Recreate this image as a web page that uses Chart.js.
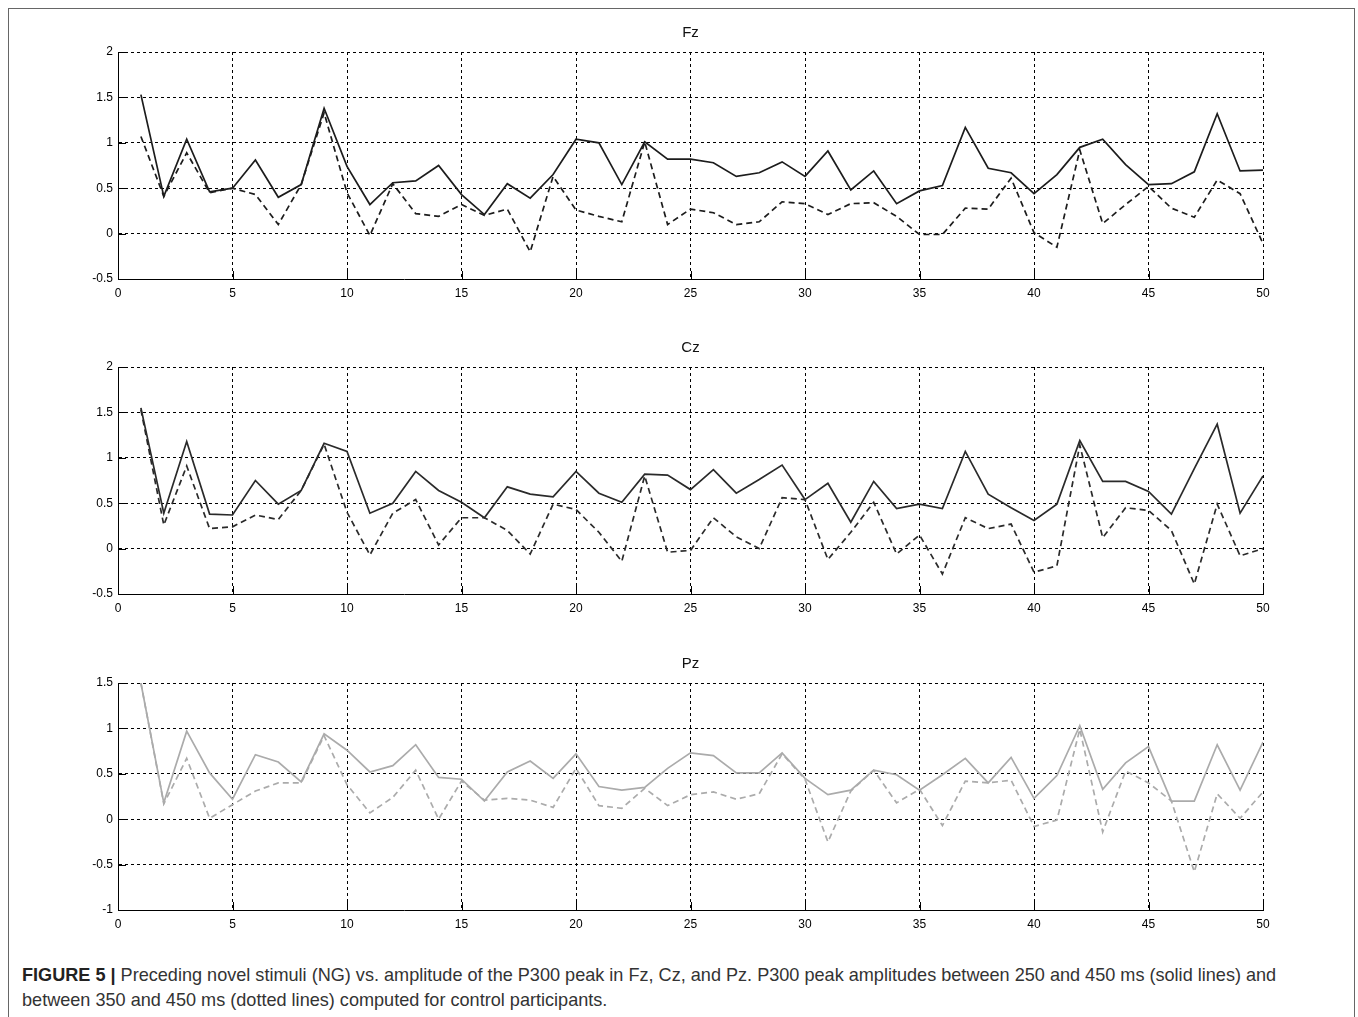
<!DOCTYPE html>
<html>
<head>
<meta charset="utf-8">
<script src="https://cdn.jsdelivr.net/npm/chart.js@4.4.1/dist/chart.umd.min.js"></script>
<style>
  html, body { margin: 0; padding: 0; background: #fff; overflow: hidden; }
  body { width: 1358px; height: 1017px; position: relative; font-family: "Liberation Sans", Arial, sans-serif; }
  #frame { position: absolute; left: 8px; top: 8px; width: 1345px; height: 1020px; border: 1px solid #666; }
  .box { position: absolute; left: 10px; width: 1361px; height: 287px; }
  #caption { position: absolute; left: 22px; top: 963px; font-size: 18.1px; line-height: 25px; color: #333; white-space: nowrap; }
  #caption b { color: #222; }
</style>
</head>
<body>
<div id="frame"></div>
<div class="box" style="top:22px"><canvas id="fz"></canvas></div>
<div class="box" style="top:337px"><canvas id="cz"></canvas></div>
<div class="box" style="top:653px"><canvas id="pz"></canvas></div>
<div id="caption"><b>FIGURE 5 |</b> Preceding novel stimuli (NG) vs. amplitude of the P300 peak in Fz, Cz, and Pz. P300 peak amplitudes between 250 and 450 ms (solid lines) and<br>between 350 and 450 ms (dotted lines) computed for control participants.</div>

<script>
// trial number (preceding novel stimuli)
const trials = [1,2,3,4,5,6,7,8,9,10,11,12,13,14,15,16,17,18,19,20,21,22,23,24,25,
                26,27,28,29,30,31,32,33,34,35,36,37,38,39,40,41,42,43,44,45,46,47,48,49,50]

// 250-450 ms (solid) and 350-450 ms (dashed)
const fzSolid = [1.53,0.41,1.04,0.46,0.50,0.81,0.40,0.54,1.38,0.74,
                 0.32,0.56,0.58,0.75,0.43,0.21,0.55,0.39,0.65,1.04,
                 1.00,0.54,1.01,0.82,0.82,0.78,0.63,0.67,0.79,0.63,
                 0.91,0.48,0.69,0.33,0.47,0.53,1.17,0.72,0.67,0.44,
                 0.65,0.95,1.04,0.76,0.54,0.55,0.68,1.32,0.69,0.70]
const fzDashed = [1.07,0.41,0.89,0.45,0.50,0.43,0.10,0.54,1.33,0.45,
                  -0.02,0.55,0.22,0.19,0.32,0.20,0.27,-0.20,0.63,0.26,
                  0.19,0.13,1.01,0.10,0.27,0.23,0.10,0.13,0.35,0.33,
                  0.21,0.33,0.34,0.19,-0.01,-0.01,0.28,0.27,0.61,0.01,
                  -0.15,0.92,0.11,0.32,0.52,0.28,0.18,0.59,0.44,-0.11]

const czSolid = [1.55,0.39,1.18,0.38,0.37,0.75,0.49,0.64,1.16,1.07,
                 0.39,0.50,0.85,0.64,0.51,0.34,0.68,0.60,0.57,0.85,
                 0.61,0.51,0.82,0.81,0.65,0.87,0.61,0.76,0.92,0.54,
                 0.72,0.29,0.74,0.44,0.49,0.44,1.07,0.60,0.45,0.31,
                 0.49,1.19,0.74,0.74,0.63,0.38,0.88,1.37,0.39,0.80]
const czDashed = [1.53,0.26,0.91,0.22,0.24,0.37,0.32,0.64,1.15,0.40,
                  -0.07,0.39,0.54,0.04,0.34,0.34,0.20,-0.06,0.49,0.43,
                  0.18,-0.14,0.80,-0.04,-0.02,0.34,0.13,0.00,0.56,0.54,
                  -0.12,0.18,0.51,-0.06,0.15,-0.28,0.34,0.22,0.27,-0.26,
                  -0.19,1.14,0.12,0.45,0.42,0.20,-0.39,0.49,-0.08,0.00]

const pzSolid = [1.50,0.18,0.97,0.51,0.22,0.71,0.63,0.41,0.94,0.76,
                 0.52,0.59,0.82,0.46,0.44,0.20,0.52,0.64,0.45,0.72,
                 0.36,0.32,0.35,0.56,0.73,0.70,0.51,0.51,0.73,0.45,
                 0.27,0.32,0.54,0.49,0.32,0.49,0.67,0.40,0.68,0.23,
                 0.48,1.03,0.33,0.62,0.80,0.20,0.20,0.82,0.32,0.85]
const pzDashed = [1.50,0.17,0.67,0.01,0.16,0.31,0.40,0.40,0.92,0.38,
                  0.07,0.24,0.54,0.00,0.42,0.21,0.23,0.21,0.13,0.56,
                  0.15,0.12,0.34,0.15,0.27,0.30,0.22,0.28,0.72,0.44,
                  -0.25,0.31,0.54,0.18,0.33,-0.07,0.42,0.40,0.43,-0.08,
                  -0.01,0.99,-0.14,0.53,0.40,0.20,-0.58,0.28,0.01,0.30]

Chart.defaults.font.family = '"Liberation Sans", Arial, sans-serif'
Chart.defaults.color = '#000'

// little matlab-style ticks pointing into the plot, plus the panel name centred over the plot
const matlabBits = {
    id: 'matlabBits',
    afterDraw(chart, args, opts) {
        const ctx = chart.ctx
        const a = chart.chartArea
        const xs = chart.scales.x, ys = chart.scales.y
        ctx.save()
        ctx.strokeStyle = '#000'
        ctx.lineWidth = 1
        ctx.beginPath()
        xs.ticks.forEach(t => {
            const px = Math.round(xs.getPixelForValue(t.value)) + 0.5
            ctx.moveTo(px, a.bottom)
            ctx.lineTo(px, a.bottom - 8)
        })
        ys.ticks.forEach(t => {
            const py = Math.round(ys.getPixelForValue(t.value)) + 0.5
            ctx.moveTo(a.left, py)
            ctx.lineTo(a.left + 8, py)
        })
        ctx.stroke()

        ctx.fillStyle = '#111'
        ctx.font = '15px "Liberation Sans", Arial, sans-serif'
        ctx.textAlign = 'center'
        ctx.textBaseline = 'middle'
        ctx.fillText(opts.text, (a.left + a.right) / 2, a.top - 19)
        ctx.restore()
    }
}

function makePlot(id, title, solid, dashed, color, ymin, ymax) {
    new Chart(document.getElementById(id), {
        type: 'line',
        data: {
            labels: trials,
            datasets: [
                { data: solid, borderColor: color, borderWidth: 1.7, pointRadius: 0, tension: 0 },
                { data: dashed, borderColor: color, borderWidth: 1.7, borderDash: [6, 4], pointRadius: 0, tension: 0 }
            ]
        },
        options: {
            responsive: true,
            maintainAspectRatio: false,
            animation: false,
            layout: { padding: { left: 0, right: 108, top: 30, bottom: 0 } },
            plugins: {
                legend: { display: false },
                tooltip: { enabled: false },
                title: { display: false },
                matlabBits: { text: title }
            },
            scales: {
                x: {
                    type: 'linear',
                    min: 0, max: 50,
                    afterFit(s) { s.height = 30 },
                    ticks: { stepSize: 5, padding: 7, font: { size: 12 }, maxRotation: 0 },
                    grid: { color: '#000', lineWidth: 1, drawTicks: false },
                    border: { color: '#000', width: 1, dash: [3, 3] }
                },
                y: {
                    min: ymin, max: ymax,
                    afterFit(s) { s.width = 108 },
                    ticks: { stepSize: 0.5, padding: 5, font: { size: 12 }, callback: v => String(v) },
                    grid: { color: '#000', lineWidth: 1, drawTicks: false },
                    border: { color: '#000', width: 1, dash: [3, 3] }
                }
            }
        },
        plugins: [matlabBits]
    })
}

makePlot('fz', 'Fz', fzSolid, fzDashed, '#1c1c1c', -0.5, 2)
makePlot('cz', 'Cz', czSolid, czDashed, '#2a2a2a', -0.5, 2)
makePlot('pz', 'Pz', pzSolid, pzDashed, '#ababab', -1, 1.5)
</script>
</body>
</html>
